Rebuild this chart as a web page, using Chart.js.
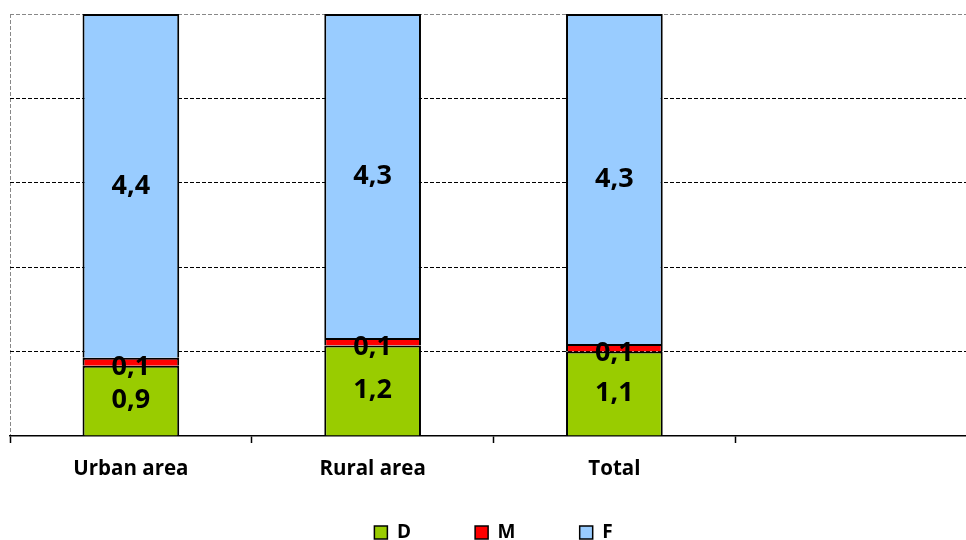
<!DOCTYPE html>
<html>
<head>
<meta charset="utf-8">
<script src="https://cdn.jsdelivr.net/npm/chart.js@4/dist/chart.umd.min.js"></script>
<style>
  html, body { margin: 0; padding: 0; background: #fff; overflow: hidden; }
  #wrap { width: 980px; height: 540px; }
</style>
</head>
<body>
<div id="wrap"><canvas id="chart"></canvas></div>
<script>
const categories = ["Urban area", "Rural area", "Total", ""];
const seriesNames = ["D", "M", "F"];
const valuesD = [0.9, 1.2, 1.1];
const valuesM = [0.1, 0.1, 0.1];
const valuesF = [4.4, 4.3, 4.3];
const colors = ["#99CC00", "#FF0000", "#99CCFF"];
const yTicks = [0, 20, 40, 60, 80, 100];

const raw = [valuesD, valuesM, valuesF];
const totals = valuesD.map((v, i) => v + valuesM[i] + valuesF[i]);
const shares = raw.map((arr) => arr.map((v, i) => (v / totals[i]) * 100));

const FONT = "'Open Sans', 'Noto Sans', sans-serif";

// draws the raw values inside each segment
const valueLabels = {
  id: "valueLabels",
  afterDatasetsDraw(chart) {
    const ctx = chart.ctx;
    ctx.save();
    ctx.fillStyle = "#000";
    ctx.font = "bold 27px " + FONT;
    ctx.textAlign = "center";
    ctx.textBaseline = "middle";
    chart.data.datasets.forEach((ds, di) => {
      const meta = chart.getDatasetMeta(di);
      meta.data.forEach((bar, i) => {
        const txt = raw[di][i].toFixed(1).replace(".", ",");
        let y = (bar.y + bar.base) / 2;
        if (di === 1) y += 6;
        ctx.fillText(txt, bar.x, y);
      });
    });
    ctx.restore();
  },
};

new Chart(document.getElementById("chart"), {
  type: "bar",
  data: {
    labels: categories,
    datasets: seriesNames.map((name, i) => ({
      label: name,
      data: shares[i],
      backgroundColor: colors[i],
      borderColor: "#000",
      borderWidth: 2,
      categoryPercentage: 1,
      barPercentage: 0.4,
    })),
  },
  plugins: [valueLabels],
  options: {
    responsive: true,
    maintainAspectRatio: false,
    animation: false,
    layout: { padding: { top: 14, left: 10, right: 3, bottom: -12 } },
    plugins: {
      tooltip: { enabled: false },
      legend: {
        position: "bottom",
        labels: {
          boxWidth: 13,
          boxHeight: 13,
          padding: 0,
          color: "#000",
          font: { family: FONT, size: 19, weight: "bold" },
          generateLabels: (chart) =>
            chart.data.datasets.map((ds, i, all) => ({
              text: ds.label + (i < all.length - 1 ? "             " : ""),
              fillStyle: ds.backgroundColor,
              strokeStyle: "#000",
              lineWidth: 1.5,
              datasetIndex: i,
            })),
        },
      },
    },
    scales: {
      x: {
        stacked: true,
        offset: true,
        grid: {
          offset: true,
          drawOnChartArea: true,
          color: (c) => (c.index === 0 ? "#888" : "rgba(0,0,0,0)"),
          tickColor: "#000",
          tickLength: 7,
          tickWidth: 1.5,
          tickBorderDash: [],
        },
        border: { display: true, color: "#000", width: 1.5, dash: [4, 2] },
        ticks: {
          color: "#000",
          padding: 14,
          font: { family: FONT, size: 20.5, weight: "bold" },
        },
        afterFit: (scale) => {
          scale.height = 87;
        },
      },
      y: {
        stacked: true,
        min: 0,
        max: 100,
        afterBuildTicks: (scale) => {
          scale.ticks = yTicks.map((v) => ({ value: v }));
        },
        ticks: { display: false },
        grid: {
          drawTicks: false,
          lineWidth: 1,
          color: (c) =>
            c.tick.value === 0 ? "rgba(0,0,0,0)" : c.tick.value === 100 ? "#888" : "#000",
        },
        border: { display: false, dash: [4, 2] },
      },
    },
  },
});
</script>
</body>
</html>
